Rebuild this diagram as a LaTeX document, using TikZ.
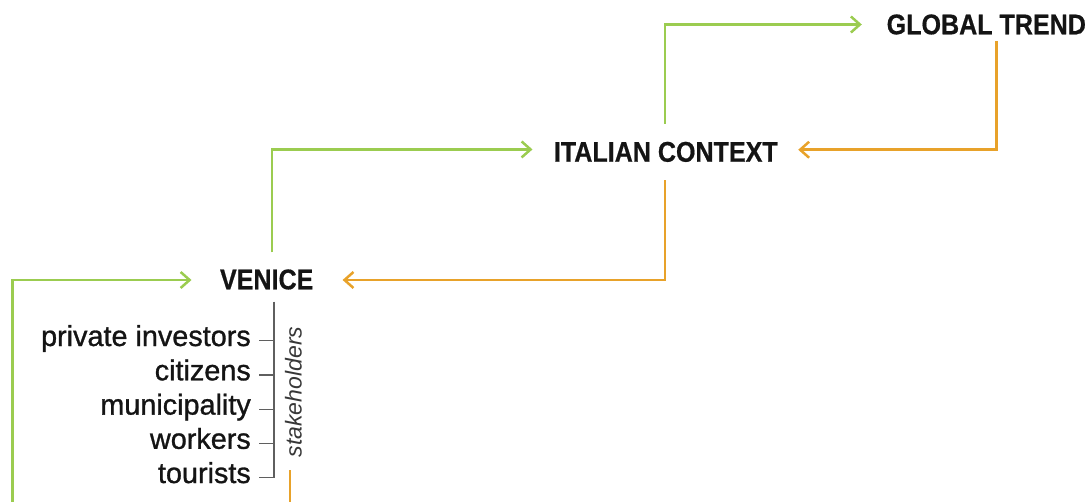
\documentclass[tikz,border=0pt]{standalone}
\usepackage{fontspec}
\setmainfont{Liberation Sans}
\newfontfamily\headfont[FakeStretch=0.88,FakeBold=0.6]{Liberation Sans Bold}
\newfontfamily\labelfont[FakeBold=1.0]{Liberation Sans}
\newfontfamily\stakefont{Liberation Sans Italic}
\usetikzlibrary{arrows.meta}
\definecolor{lgreen}{RGB}{155,204,80}
\definecolor{lorange}{RGB}{232,162,42}
\definecolor{bracketgray}{RGB}{95,95,95}
\definecolor{inkblack}{RGB}{20,20,20}
\begin{document}
\begin{tikzpicture}[x=1pt,y=-1pt,
  head/.style={font=\headfont\fontsize{28.5}{30}\selectfont, text=inkblack, inner sep=0pt, anchor=base},
  stakelabel/.style={font=\labelfont\fontsize{28.8}{30}\selectfont, text=inkblack, inner sep=0pt, anchor=base east},
  stakeitalic/.style={font=\stakefont\fontsize{23}{25}\selectfont, text=inkblack!85, inner sep=0pt, anchor=base, rotate=90},
  garrow/.style={draw=lgreen, line width=2.5pt, -{Straight Barb[length=9pt,width=16pt]}},
  oarrow/.style={draw=lorange, line width=2.5pt, -{Straight Barb[length=9pt,width=16pt]}},
  oline/.style={draw=lorange, line width=2.5pt},
  bracket/.style={draw=bracketgray, line width=1.3pt}]
\useasboundingbox (0,0) rectangle (1092,501);

% main nodes
\node[head] (global) at (986.3,34.3) {GLOBAL TREND};
\node[head] (italian) at (665.8,161.7) {ITALIAN CONTEXT};
\node[head] (venice) at (266.7,289.3) {VENICE};

% stakeholders
\node[stakelabel] (inv) at (251,346) {private investors};
\node[stakelabel] (cit) at (251,380.3) {citizens};
\node[stakelabel] (mun) at (251,414.6) {municipality};
\node[stakelabel] (wor) at (251,448.8) {workers};
\node[stakelabel] (tou) at (251,483) {tourists};
\node[stakeitalic] (stake) at (301.7,392) {stakeholders};

% bracket
\coordinate (btop) at (274,301.7);
\coordinate (btick) at ([xshift=8pt,yshift=5.3pt]tou.base east);
\draw[bracket] (btop) -- (btop |- btick) -- (btick);
\foreach \n in {inv,cit,mun,wor}{
  \draw[bracket] ([xshift=8pt,yshift=5.3pt]\n.base east) -- ++(15,0);
}

% green connectors (upward)
\draw[garrow] ([xshift=5.3pt,yshift=16.8pt]venice.north) |- ([xshift=-21.2pt,yshift=2.45pt]italian.west);
\draw[garrow] ([xshift=-0.8pt,yshift=17.9pt]italian.north) |- ([xshift=-24.7pt]global.west);
\coordinate (gbot) at (12.3,504);
\draw[garrow] (gbot) |- ([xshift=-28.3pt,yshift=-0.5pt]venice.west);

% orange connectors (downward)
\draw[oarrow] ([xshift=10.4pt,yshift=-6.1pt]global.south) |- ([xshift=20.3pt,yshift=2.15pt]italian.east);
\draw[oarrow] ([xshift=-0.8pt,yshift=-18pt]italian.south) |- ([xshift=29pt,yshift=-0.5pt]venice.east);
\coordinate (otop) at (290,470);
\coordinate (obot) at (290,504);
\draw[oline] (otop) -- (obot);
\end{tikzpicture}
\end{document}
